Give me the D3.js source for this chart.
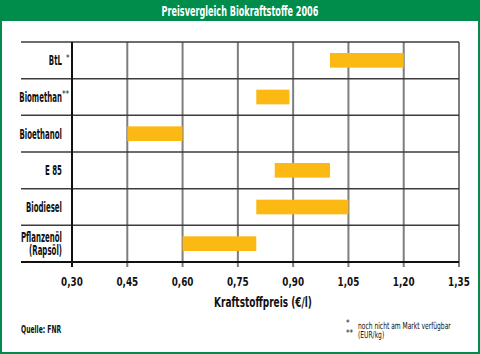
<!DOCTYPE html>
<html>
<head>
<meta charset="utf-8">
<script src="https://cdn.jsdelivr.net/npm/d3@7"></script>
<style>
  html, body { margin: 0; padding: 0; background: #fff; }
  svg { display: block; }
  text { font-family: "DejaVu Sans", sans-serif; font-weight: bold; fill: #111; }
</style>
</head>
<body>
<div id="chart"></div>
<script>
// --- Datos ---
const categories = ["BtL", "Biomethan", "Bioethanol", "E 85", "Biodiesel", "Pflanzenöl"];
const subLabels = ["", "", "", "", "", "(Rapsöl)"];
const marks = ["*", "**", "", "", "", ""];
const priceLow = [1.00, 0.80, 0.45, 0.85, 0.80, 0.60];
const priceHigh = [1.20, 0.89, 0.60, 1.00, 1.05, 0.80];
const ticks = [0.30, 0.45, 0.60, 0.75, 0.90, 1.05, 1.20, 1.35];
const title = "Preisvergleich Biokraftstoffe 2006";
const xTitle = "Kraftstoffpreis (€/l)";
const source = "Quelle: FNR";
const notes = [["*", "noch nicht am Markt verfügbar"], ["**", "(EUR/kg)"]];

// --- Configuración ---
const width = 480, height = 354;
const green = "#008c4b";
const barColor = "#fdb913";
const plot = { left: 72, right: 459, top: 42, bottom: 262 };

const svg = d3.select("#chart").append("svg")
  .attr("width", width)
  .attr("height", height);

// texto estrecho: la fuente original es muy condensada
function tr(xp, yp, sx) { return `translate(${xp},${yp}) scale(${sx},1)`; }

// Marco verde y cabecera
svg.append("rect")
  .attr("x", 1).attr("y", 1)
  .attr("width", width - 2).attr("height", height - 2)
  .attr("fill", "#fff")
  .attr("stroke", green).attr("stroke-width", 2);
svg.append("rect")
  .attr("x", 0).attr("y", 0)
  .attr("width", width).attr("height", 21)
  .attr("fill", green);
svg.append("text")
  .attr("transform", tr(width / 2, 15.5, 0.58))
  .attr("text-anchor", "middle")
  .style("font-size", "14px")
  .style("fill", "#fff")
  .text(title);

// Escalas
const x = d3.scaleLinear()
  .domain([0.30, 1.35])
  .range([plot.left, plot.right]);
const y = d3.scaleBand()
  .domain(categories)
  .range([plot.top, plot.bottom]);

// Líneas verticales (rejilla) con marcas bajo el eje
svg.append("g")
  .selectAll("line")
  .data(ticks.slice(1))
  .enter().append("line")
  .attr("x1", d => x(d)).attr("x2", d => x(d))
  .attr("y1", plot.top).attr("y2", plot.bottom + 5)
  .attr("stroke", "#7d7d7d")
  .attr("stroke-width", 2);

// Líneas horizontales entre categorías
const rowLines = categories.map(c => y(c)).concat([plot.bottom]);
svg.append("g")
  .selectAll("line")
  .data(rowLines)
  .enter().append("line")
  .attr("x1", 21).attr("x2", plot.right)
  .attr("y1", d => d).attr("y2", d => d)
  .attr("stroke", (d, i) => i === rowLines.length - 1 ? "#111" : "#3c3c3c")
  .attr("stroke-width", (d, i) => i === rowLines.length - 1 ? 2 : 1.5);

// Eje izquierdo
svg.append("line")
  .attr("x1", plot.left).attr("x2", plot.left)
  .attr("y1", plot.top).attr("y2", plot.bottom + 5)
  .attr("stroke", "#111")
  .attr("stroke-width", 2);

// Barras
const barH = y.bandwidth() * 0.4;
svg.append("g")
  .selectAll("rect")
  .data(categories)
  .enter().append("rect")
  .attr("x", (d, i) => x(priceLow[i]))
  .attr("width", (d, i) => x(priceHigh[i]) - x(priceLow[i]))
  .attr("y", d => y(d) + (y.bandwidth() - barH) / 2)
  .attr("height", barH)
  .attr("fill", barColor);

// Etiquetas de categoría
const labels = svg.append("g")
  .selectAll("g")
  .data(categories)
  .enter().append("g");

const labSx = 0.52;
labels.append("text")
  .attr("transform", (d, i) => tr(62, y(d) + y.bandwidth() / 2 + (subLabels[i] ? -2 : 5), labSx))
  .attr("text-anchor", "end")
  .style("font-size", "13.5px")
  .text(d => d);

labels.append("text")
  .attr("transform", (d, i) => tr(62, y(d) + y.bandwidth() / 2 + 11, labSx))
  .attr("text-anchor", "end")
  .style("font-size", "13.5px")
  .text((d, i) => subLabels[i]);

labels.append("text")
  .attr("transform", (d, i) => tr(marks[i] === "**" ? 62 : 66, y(d) + y.bandwidth() / 2 + (marks[i] === "**" ? 0 : 1), 0.8))
  .attr("text-anchor", "start")
  .style("font-size", "9px")
  .style("font-weight", "normal")
  .text((d, i) => marks[i]);

// Etiquetas del eje X
svg.append("g")
  .selectAll("text")
  .data(ticks)
  .enter().append("text")
  .attr("transform", d => tr(x(d), 286, 0.68))
  .attr("text-anchor", "middle")
  .style("font-size", "13px")
  .text(d => d3.format(".2f")(d).replace(".", ","));

svg.append("text")
  .attr("transform", tr(263, 307, 0.665))
  .attr("text-anchor", "middle")
  .style("font-size", "13.5px")
  .text(xTitle);

// Fuente y notas
svg.append("text")
  .attr("transform", tr(21, 333, 0.55))
  .style("font-size", "11px")
  .text(source);

const noteG = svg.append("g")
  .selectAll("g")
  .data(notes)
  .enter().append("g");
noteG.append("text")
  .attr("transform", (d, i) => tr(346, 326 + i * 9.5, 0.8))
  .style("font-size", "9px")
  .style("font-weight", "normal")
  .text(d => d[0]);
noteG.append("text")
  .attr("transform", (d, i) => tr(358, 328.5 + i * 9.5, 0.63))
  .style("font-size", "9.5px")
  .style("font-weight", "normal")
  .text(d => d[1]);
</script>
</body>
</html>
